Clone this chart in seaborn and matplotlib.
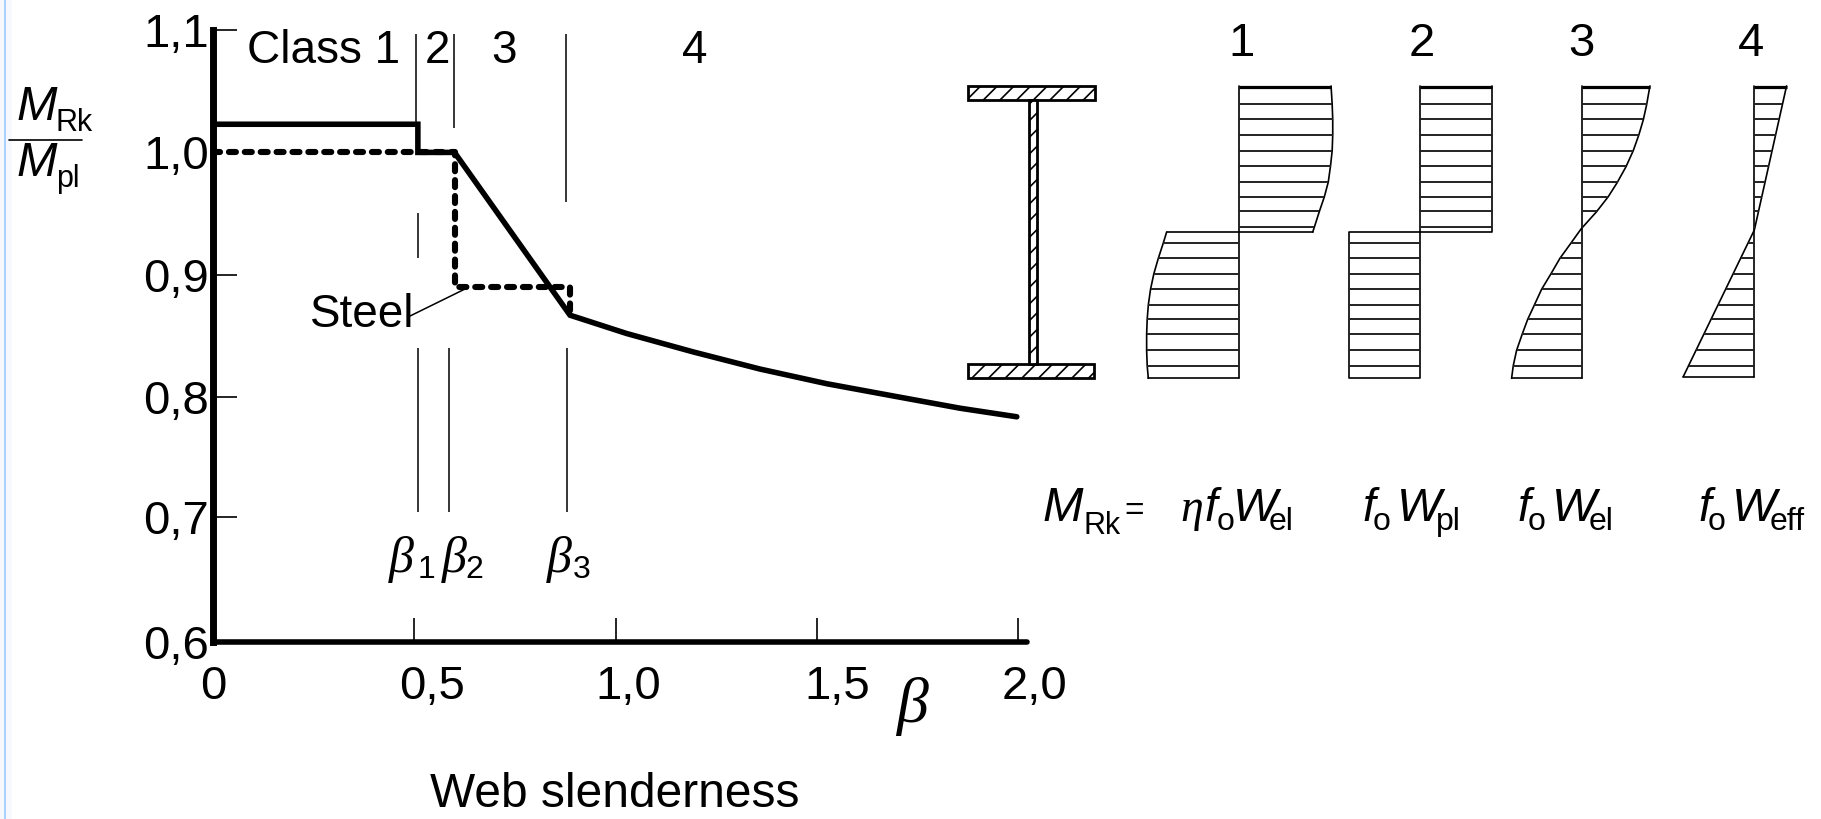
import numpy as np
import matplotlib
matplotlib.use("Agg")
import matplotlib.pyplot as plt
from matplotlib.patches import Rectangle
from matplotlib.transforms import ScaledTranslation
import seaborn as sns

# ---- chart data ----
solid_beta = [0.0, 0.509, 0.509, 0.60, 0.887, 1.028, 1.193, 1.359, 1.525, 1.690, 1.856, 1.997]
solid_ratio = [1.023, 1.023, 1.0, 1.0, 0.867, 0.852, 0.837, 0.823, 0.811, 0.801, 0.791, 0.784]
steel_beta = [0.0, 0.60, 0.60, 0.888, 0.888]
steel_ratio = [1.0, 1.0, 0.89, 0.89, 0.868]
x_ticks = [0, 0.5, 1.0, 1.5, 2.0]
x_labels = ["0", "0,5", "1,0", "1,5", "2,0"]
x_label_shift_px = [0, 18, 13, 21, 16]
y_ticks = [0.6, 0.702, 0.8, 0.9, 1.0, 1.1]
y_labels = ["0,6", "0,7", "0,8", "0,9", "1,0", "1,1"]

# class boundary lines: x in reference pixels, y from / to
class_lines_x = [416, 454, 566, 418, 418, 449, 567]
class_lines_top = [34, 34, 34, 213, 348, 348, 348]
class_lines_bot = [122, 128, 202, 258, 512, 512, 512]

# stress blocks, drawn in a local scale covering the right part of the figure
block_top, block_mid, block_bot = 258, 696, 1135
upper_levels = [313, 358, 405, 452, 498, 546, 590, 634, 681]
lower_levels = [729, 775, 821, 868, 915, 958, 1003, 1051, 1097]

b1_axis = 521
b1_upper_y = [258, 313, 358, 405, 452, 498, 546, 590, 634, 681, 696]
b1_upper_x = [686, 688, 689, 689, 688, 685, 681, 674, 665, 656, 653]
b1_lower_y = [696, 729, 775, 821, 868, 915, 958, 1003, 1051, 1097, 1135]
b1_lower_x = [390, 384, 375, 367, 361, 357, 355, 354, 354, 355, 357]

b2_axis, b2_right, b2_left = 847, 975, 719

b3_axis = 1138
b3_y = [258, 315, 360, 405, 452, 500, 548, 590, 635, 687, 729, 775, 821, 868, 915, 958, 1003, 1051, 1097, 1135]
b3_x = [1260, 1254, 1248, 1240, 1230, 1217, 1201, 1185, 1164, 1136, 1118, 1098, 1082, 1065, 1052, 1040, 1030, 1020, 1014, 1011]

b4_axis = 1448
b4_y = [258, 690, 1130]
b4_x = [1506, 1448, 1320]

# ---- style ----
W, H = 1821, 819
sns.set_theme(style="white")
plt.rcParams["font.family"] = ["Liberation Sans", "DejaVu Sans"]
plt.rcParams["hatch.linewidth"] = 1.2
plt.rcParams["hatch.color"] = "black"

fig = plt.figure(figsize=(W / 100, H / 100), dpi=100, facecolor="white")

# main axes: beta 0 at px 213, 402.5 px per unit; 0.6 at px 642, 1224 px per unit
ax_l, ax_r, ax_t, ax_b = 213, 1027, 30, 642
ax = fig.add_axes([ax_l / W, 1 - ax_b / H, (ax_r - ax_l) / W, (ax_b - ax_t) / H])
ax.patch.set_alpha(0)

sns.lineplot(x=solid_beta, y=solid_ratio, sort=False, estimator=None, color="black",
             lw=4, ax=ax, solid_capstyle="round", solid_joinstyle="miter", clip_on=False, zorder=4)
sns.lineplot(x=steel_beta, y=steel_ratio, sort=False, estimator=None, color="black",
             lw=4.4, ax=ax, linestyle=(0, (1.15, 1.45)), dash_capstyle="round",
             clip_on=False, zorder=3)

ax.set_xlim(0, (ax_r - ax_l) / 402.5)
ax.set_ylim(0.6, 1.1)
sns.despine(ax=ax)
ax.spines["left"].set_linewidth(5)
ax.spines["bottom"].set_linewidth(4)
ax.spines["left"].set_color("black")
ax.spines["bottom"].set_color("black")
ax.spines["bottom"].set_capstyle("round")
ax.set_xticks(x_ticks, x_labels)
ax.set_yticks(y_ticks, y_labels)
ax.tick_params(axis="both", direction="in", length=17, width=1.2, color="black",
               labelsize=34, labelcolor="black", left=True, bottom=True)
ax.tick_params(axis="x", pad=16.5)
ax.tick_params(axis="y", pad=3)
for t, s in zip(ax.xaxis.get_major_ticks(), x_label_shift_px):
    t.label1.set_transform(t.label1.get_transform() +
                           ScaledTranslation(s / 100, 0, fig.dpi_scale_trans))
ax.xaxis.get_major_ticks()[0].tick1line.set_visible(False)
ax.yaxis.get_major_ticks()[0].tick1line.set_visible(False)
ax.yaxis.get_major_ticks()[4].tick1line.set_visible(False)

# overlay in reference pixels for annotation
ov = fig.add_axes([0, 0, 1, 1], zorder=5)
ov.axis("off")
ov.set_xlim(0, W)
ov.set_ylim(H, 0)


def txt(x, y, s, size=33, style="normal", family="Liberation Sans", ha="left"):
    ov.text(x, y, s, fontsize=size, style=style, family=family, ha=ha, va="baseline", color="black")


ov.vlines(class_lines_x, class_lines_top, class_lines_bot, color="black", lw=1.1)
ov.plot([408, 465], [317, 289], color="black", lw=1.1)
ov.plot([9, 82], [139.5, 139.5], color="black", lw=1.2)
ov.add_patch(Rectangle((0, 0), 12, H, color="#f6f8fe", lw=0))
ov.add_patch(Rectangle((4, 0), 2, H, color="#a9d3ff", lw=0))

txt(247, 63, "Class 1")
txt(437, 63, "2", ha="center")
txt(504, 63, "3", ha="center")
txt(695, 63, "4", ha="center")
txt(310, 327, "Steel")
txt(614.5, 807, "Web slenderness", size=34.5, ha="center")

txt(17, 120, "M", size=35, style="italic")
txt(56, 131, "Rk", size=22)
txt(17, 176, "M", size=35, style="italic")
txt(56, 187, "pl", size=22)

SERIF = "Liberation Serif"
txt(389, 572, "β", size=36, style="italic", family=SERIF)
txt(418, 578, "1", size=23)
txt(442, 572, "β", size=36, style="italic", family=SERIF)
txt(465, 578, "2", size=23)
txt(547, 572, "β", size=36, style="italic", family=SERIF)
txt(573, 578, "3", size=23)
txt(896, 722, "β", size=46, style="italic", family=SERIF)

for x, s in zip([1241, 1421.5, 1581.5, 1751], ["1", "2", "3", "4"]):
    txt(x, 56, s, size=34, ha="center")

txt(1043, 521, "M", size=35, style="italic")
txt(1084, 534, "Rk", size=22)
txt(1124, 520, "=", size=24)
txt(1180, 521, "η", size=33, style="italic", family=SERIF)
for fx, ox, wx, sx, sub in [(1204, 1217, 1233, 1269, "el"),
                            (1362, 1373, 1397, 1436, "pl"),
                            (1517, 1528, 1552, 1589, "el"),
                            (1698, 1708, 1732, 1770, "eff")]:
    txt(fx, 521, "f", style="italic")
    txt(ox, 530, "o", size=23)
    txt(wx, 521, "W", style="italic", size=34)
    txt(sx, 530, sub, size=23)

# I-section
for (x0, y0, w, h) in [(968, 85.5, 127, 14), (968, 364, 126, 14), (1028.5, 99.5, 8, 264.5)]:
    ov.add_patch(Rectangle((x0, y0), w, h, facecolor="white", edgecolor="black",
                           lw=2, hatch="//"))

# stress blocks: local axes with reference region 950..1821 x 0..400 px
sec = fig.add_axes([950 / W, 1 - 400 / H, 871 / W, 400 / H], zorder=6)
sec.axis("off")
thin = dict(color="black", lw=1.2)


def outline(xs, ys):
    sns.lineplot(x=xs, y=ys, sort=False, estimator=None, ax=sec, **thin)


def hatch_to(ys, axis, x_at):
    sec.hlines(ys, axis, [x_at(y) for y in ys], color="#222222", lw=1.4)


def top_cap(x0, x1):
    sec.plot([x0, x1], [block_top + 2, block_top + 2], color="black", lw=2.3, solid_capstyle="butt")


# block 1
outline(b1_upper_x, b1_upper_y)
outline(b1_lower_x, b1_lower_y)
outline([b1_axis, b1_axis], [block_top, block_bot])
top_cap(b1_axis, b1_upper_x[0])
outline([b1_lower_x[0], b1_upper_x[-1]], [block_mid, block_mid])
outline([b1_lower_x[-1], b1_axis], [block_bot, block_bot])
hatch_to(upper_levels, b1_axis, lambda y: np.interp(y, b1_upper_y, b1_upper_x))
hatch_to(lower_levels, b1_axis, lambda y: np.interp(y, b1_lower_y, b1_lower_x))

# block 2
outline([b2_right, b2_right, b2_left, b2_left, b2_axis, b2_axis],
        [block_top, block_mid, block_mid, block_bot, block_bot, block_top])
top_cap(b2_axis, b2_right)
hatch_to(upper_levels, b2_axis, lambda y: b2_right)
hatch_to(lower_levels, b2_axis, lambda y: b2_left)

# block 3
outline(b3_x, b3_y)
outline([b3_axis, b3_axis], [block_top, block_bot])
top_cap(b3_axis, b3_x[0])
outline([b3_x[-1], b3_axis], [block_bot, block_bot])
hatch_to(upper_levels + lower_levels, b3_axis, lambda y: np.interp(y, b3_y, b3_x))

# block 4
outline(b4_x, b4_y)
outline([b4_axis, b4_axis], [block_top, b4_y[-1]])
top_cap(b4_axis, b4_x[0])
outline([b4_x[-1], b4_axis], [b4_y[-1], b4_y[-1]])
hatch_to(upper_levels + lower_levels, b4_axis, lambda y: np.interp(y, b4_y, b4_x))

sec.set_xlim(0, 1568)
sec.set_ylim(1200, 0)

fig.savefig("out.png", dpi=100, facecolor="white")
